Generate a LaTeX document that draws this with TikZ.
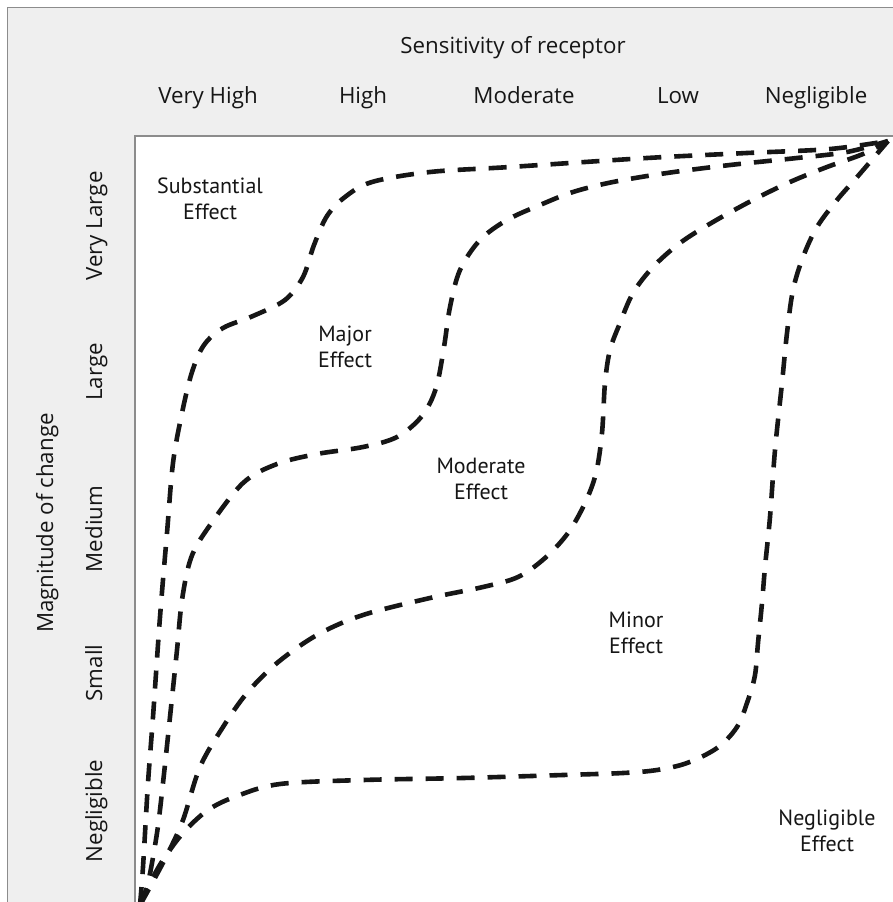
\documentclass[tikz,border=0pt]{standalone}
\usepackage{fontspec}
\setmainfont{Open Sans}
\newfontfamily\innerfont{PT Sans}
\definecolor{panelgray}{RGB}{239,239,239}
\definecolor{edgegray}{RGB}{140,140,140}
\definecolor{inkcol}{RGB}{22,22,22}
\tikzset{
  headlabel/.style={font=\fontsize{22.3}{26}\selectfont, text=inkcol, inner sep=0pt, anchor=base},
  rowlabel/.style={font=\fontsize{22.3}{26}\selectfont, text=inkcol, inner sep=0pt, anchor=base, rotate=90},
  zonelabel/.style={font=\innerfont\fontsize{22}{26}\selectfont, text=inkcol, inner sep=0pt, align=center},
  boundary/.style={draw=inkcol, line width=4.6pt, dash pattern=on 18pt off 13pt},
}
\begin{document}
\begin{tikzpicture}[x=1pt,y=-1pt]
\useasboundingbox (0,0) rectangle (893,902);
\fill[white] (0,0) rectangle (893,902);
% grey frame
\fill[panelgray] (7.5,7.5) rectangle (893,902);
\draw[edgegray, line width=1.3pt] (7.5,902) -- (7.5,7.5) -- (893,7.5);
% white plot area
\fill[white] (135,136) rectangle (893,902);
\draw[edgegray, line width=1.3pt] (135,902) -- (135,136) -- (893,136);

% header texts
\node[headlabel] (title) at (513,53) {Sensitivity of receptor};
\node[headlabel] (c1) at (208,103) {Very High};
\node[headlabel] (c2) at (363,103) {High};
\node[headlabel] (c3) at (524,103) {Moderate};
\node[headlabel] (c4) at (678,103) {Low};
\node[headlabel] (c5) at (816,103) {Negligible};

\node[rowlabel] (ytitle) at (53,523) {Magnitude of change};
\node[rowlabel] (r1) at (102,226) {Very Large};
\node[rowlabel] (r2) at (102,372) {Large};
\node[rowlabel] (r3) at (102,529) {Medium};
\node[rowlabel] (r4) at (102,673) {Small};
\node[rowlabel] (r5) at (102,811) {Negligible};

% zone boundaries
\begin{scope}
\clip (135,136) rectangle (893,902);
\draw[boundary] plot[smooth, tension=0.55] coordinates {
 (140,905) (143,867) (148,783) (153,717) (160,617) (167,533) (173,463) (182,413)
 (192,372) (204,345) (223,328) (253,316) (285,300) (303,277) (314,245) (327,216)
 (345,197) (372,182) (430,172) (510,167) (647,158) (747,153) (830,149) (888,141)};
\draw[boundary] plot[smooth, tension=0.55] coordinates {
 (140,905) (148,883) (157,833) (163,783) (170,717) (177,650) (182,600) (191,558)
 (208,528) (243,483) (277,464) (317,454) (363,447) (397,437) (422,416) (436,388)
 (444,347) (450,307) (460,270) (480,240) (507,220) (540,205) (573,192) (613,182)
 (667,173) (730,165) (797,158) (847,152) (888,141)};
\draw[boundary] plot[smooth, tension=0.55] coordinates {
 (140,905) (150,887) (167,855) (183,820) (200,767) (223,727) (247,693) (277,663)
 (317,635) (363,615) (430,598) (483,587) (518,577) (545,558) (568,533) (585,503)
 (596,473) (602,433) (605,383) (610,350) (620,323) (633,293) (653,267) (680,243)
 (713,222) (753,200) (790,182) (827,167) (863,154) (888,141)};
\draw[boundary] plot[smooth, tension=0.55] coordinates {
 (140,905) (150,883) (163,860) (183,833) (208,810) (237,796) (280,784) (363,780)
 (463,778) (563,775) (623,773) (657,770) (687,763) (717,748) (737,727) (748,700)
 (755,675) (758,643) (762,603) (765,567) (770,517) (775,450) (782,383) (787,333)
 (793,290) (803,257) (817,227) (837,200) (858,176) (888,141)};
\end{scope}

% zone labels
\node[zonelabel] (z1) at (210,199) {Substantial\\Effect};
\node[zonelabel] (z2) at (345,347) {Major\\Effect};
\node[zonelabel] (z3) at (481,479) {Moderate\\Effect};
\node[zonelabel] (z4) at (636,633) {Minor\\Effect};
\node[zonelabel] (z5) at (827,831) {Negligible\\Effect};
\end{tikzpicture}
\end{document}
